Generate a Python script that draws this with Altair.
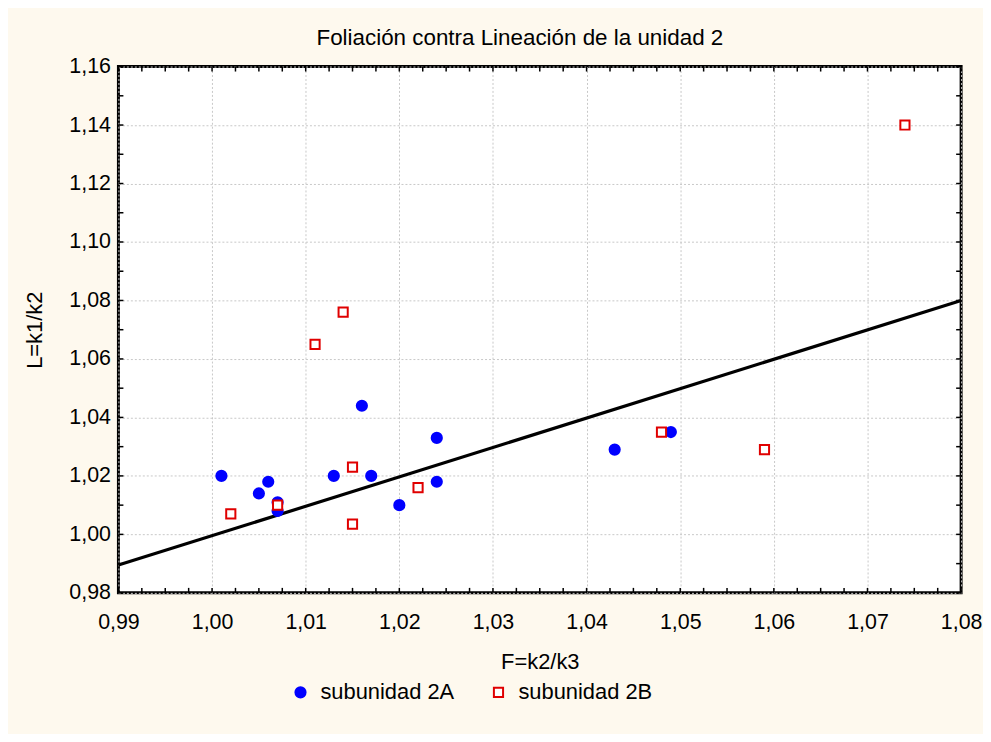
import altair as alt
import pandas as pd

# ---- data ----
series_names = ["subunidad 2A", "subunidad 2B"]
x_2A = [1.001, 1.005, 1.006, 1.007, 1.007, 1.013, 1.016, 1.017, 1.020, 1.024, 1.024, 1.043, 1.049]
y_2A = [1.020, 1.014, 1.018, 1.011, 1.008, 1.020, 1.044, 1.020, 1.010, 1.033, 1.018, 1.029, 1.035]
x_2B = [1.002, 1.007, 1.011, 1.014, 1.015, 1.015, 1.022, 1.048, 1.059, 1.074]
y_2B = [1.007, 1.010, 1.065, 1.076, 1.023, 1.0035, 1.016, 1.035, 1.029, 1.140]
fit_x = [0.99, 1.08]
fit_y = [0.9895, 1.080]
x_ticks = [0.99, 1.00, 1.01, 1.02, 1.03, 1.04, 1.05, 1.06, 1.07, 1.08]
y_ticks = [0.98, 1.00, 1.02, 1.04, 1.06, 1.08, 1.10, 1.12, 1.14, 1.16]
x_minor = [round(0.99 + i * 0.0025, 4) for i in range(37)]
y_minor = [round(0.98 + i * 0.01, 3) for i in range(19)]

W, H = 847, 529
FONT = "Liberation Sans"
FS = 22
FS_TICK = 21.5
BG = "#FEF9EE"

pts = pd.DataFrame({
    "F": x_2A + x_2B,
    "L": y_2A + y_2B,
    "serie": [series_names[0]] * len(x_2A) + [series_names[1]] * len(x_2B),
})
fit = pd.DataFrame({"F": fit_x, "L": fit_y})
xm = pd.DataFrame({"F": x_minor})
ym = pd.DataFrame({"L": y_minor})

xscale = alt.Scale(domain=[x_ticks[0], x_ticks[-1]], nice=False, zero=False)
yscale = alt.Scale(domain=[y_ticks[0], y_ticks[-1]], nice=False, zero=False)
lbl = "replace(format(datum.value, '.2f'), '.', ',')"

xaxis = alt.Axis(values=x_ticks, labelExpr=lbl, title="F=k2/k3", ticks=False, domain=False,
                 grid=True, gridColor="#C8C8C8", gridDash=[2, 2], gridWidth=1,
                 labelPadding=19, titlePadding=19, labelFlush=False)
yaxis = alt.Axis(values=y_ticks, labelExpr=lbl, title="L=k1/k2", ticks=False, domain=False,
                 grid=True, gridColor="#C8C8C8", gridDash=[2, 2], gridWidth=1,
                 labelPadding=8, titlePadding=22, labelFlush=False)

X = alt.X("F:Q", scale=xscale, axis=xaxis)
Y = alt.Y("L:Q", scale=yscale, axis=yaxis)

line = alt.Chart(fit).mark_line(color="black", strokeWidth=3.2).encode(x=X, y=Y)

leg = alt.Legend(title=None)
points = alt.Chart(pts).mark_point(filled=False, opacity=1, strokeWidth=2).encode(
    x=X, y=Y,
    shape=alt.Shape("serie:N", scale=alt.Scale(domain=series_names, range=["circle", "square"]), legend=leg),
    fill=alt.Fill("serie:N", scale=alt.Scale(domain=series_names, range=["#0000FF", "#FFFFFF"]), legend=leg),
    stroke=alt.Stroke("serie:N", scale=alt.Scale(domain=series_names, range=["#0000FF", "#E00000"]), legend=leg),
    size=alt.Size("serie:N", scale=alt.Scale(domain=series_names, range=[105, 85]), legend=leg),
    order=alt.Order("serie:N"),
)

tick_style = dict(color="black", strokeWidth=1.5)
top_t = alt.Chart(xm).mark_rule(**tick_style).encode(x=X, y=alt.value(0), y2=alt.value(5))
bot_t = alt.Chart(xm).mark_rule(**tick_style).encode(x=X, y=alt.value(H), y2=alt.value(H - 5))
left_t = alt.Chart(ym).mark_rule(**tick_style).encode(y=Y, x=alt.value(0), x2=alt.value(5))
right_t = alt.Chart(ym).mark_rule(**tick_style).encode(y=Y, x=alt.value(W), x2=alt.value(W - 5))

chart = alt.layer(line, top_t, bot_t, left_t, right_t, points).properties(
    width=W, height=H,
    autosize=alt.AutoSizeParams(type="none"),
    padding={"left": 111, "top": 57, "right": 22, "bottom": 140},
    background=BG,
    title=alt.Title("Foliación contra Lineación de la unidad 2", fontSize=22.5, font=FONT,
                    fontWeight="normal", color="black", offset=6, anchor="middle", dx=-20),
).configure(font=FONT).configure_view(
    stroke="black", strokeWidth=3, fill="white"
).configure_axis(
    labelFont=FONT, titleFont=FONT, labelFontSize=FS_TICK, titleFontSize=FS,
    labelColor="black", titleColor="black", titleFontWeight="normal",
).configure_legend(
    orient="none", legendX=172, legendY=618, direction="horizontal",
    labelFont=FONT, labelFontSize=FS, labelColor="black", labelOffset=9,
    columnPadding=33, symbolStrokeWidth=2,
)

chart.save("out.html", embed_options={"renderer": "svg", "actions": False})
